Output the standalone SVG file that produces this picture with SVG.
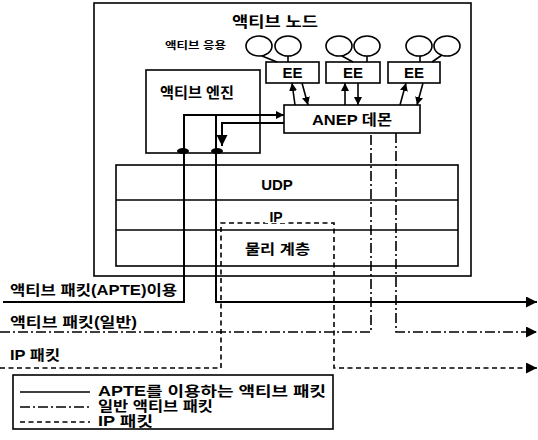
<svg xmlns="http://www.w3.org/2000/svg" width="538" height="440" viewBox="0 0 538 440">
<defs>
<style>
.box{fill:#fff;stroke:#000;stroke-width:1.6}
.ln{fill:none;stroke:#000;stroke-width:1.6}
.thk{fill:none;stroke:#000;stroke-width:2}
.dd{fill:none;stroke:#000;stroke-width:1.6;stroke-dasharray:10 3 2 3}
.ds{fill:none;stroke:#000;stroke-width:1.6;stroke-dasharray:5 3.5}
text{font-family:"Liberation Sans","Noto Sans CJK KR",sans-serif;font-weight:bold;fill:#000}
.t15{font-size:15px}
.t14{font-size:14px}
.t13{font-size:13px}
.t10{font-size:10px}
</style>
<marker id="ah" viewBox="0 0 10 10" refX="10" refY="5" markerWidth="8" markerHeight="8" markerUnits="userSpaceOnUse" orient="auto">
<path d="M0,0 L10,5 L0,10 z" fill="#000"/>
</marker>
<marker id="ahb" viewBox="0 0 10 10" refX="10" refY="5" markerWidth="11" markerHeight="11" markerUnits="userSpaceOnUse" orient="auto">
<path d="M0,0 L10,5 L0,10 z" fill="#000"/>
</marker>
</defs>
<rect width="538" height="440" fill="#fff"/>

<g id="active-node">
<rect x="94" y="3" width="377" height="273" class="box"/>
<text x="232" y="27" class="t15" textLength="86" lengthAdjust="spacingAndGlyphs">액티브 노드</text>
</g>

<g id="active-apps">
<text x="165" y="49" class="t10" textLength="61" lengthAdjust="spacingAndGlyphs">액티브 응용</text>
<ellipse cx="259" cy="46" rx="13" ry="10" class="ln"/>
<ellipse cx="288" cy="46" rx="13" ry="10" class="ln"/>
<ellipse cx="339" cy="46" rx="13" ry="10" class="ln"/>
<ellipse cx="367" cy="46" rx="13" ry="10" class="ln"/>
<ellipse cx="419" cy="46" rx="13" ry="10" class="ln"/>
<ellipse cx="447" cy="46" rx="13" ry="10" class="ln"/>
</g>

<g id="ee1">
<rect x="266" y="62" width="53" height="21" class="box"/>
<text x="292.5" y="78" text-anchor="middle" class="t15">EE</text>
</g>
<g id="ee2">
<rect x="326" y="62" width="54" height="21" class="box"/>
<text x="353" y="78" text-anchor="middle" class="t15">EE</text>
</g>
<g id="ee3">
<rect x="388" y="62" width="52" height="21" class="box"/>
<text x="414" y="78" text-anchor="middle" class="t15">EE</text>
</g>

<g id="active-engine">
<rect x="146" y="70" width="114" height="83" class="box"/>
<text x="160" y="98" class="t15" textLength="74" lengthAdjust="spacingAndGlyphs">액티브 엔진</text>
</g>

<g id="anep">
<rect x="284" y="105" width="136" height="28" class="box"/>
<text x="312" y="125" class="t15" textLength="80" lengthAdjust="spacingAndGlyphs">ANEP 데몬</text>
</g>

<g id="stack">
<rect x="116" y="165" width="342" height="101" class="box"/>
<line x1="116" y1="200" x2="458" y2="200" class="ln"/>
<line x1="116" y1="230" x2="458" y2="230" class="ln"/>
<text x="277" y="190" text-anchor="middle" class="t15">UDP</text>
<text x="245" y="254" class="t14" textLength="65" lengthAdjust="spacingAndGlyphs">물리 계층</text>
</g>

<g id="connectors">
<line x1="262" y1="56" x2="277" y2="62" class="ln"/>
<line x1="288" y1="56" x2="288" y2="62" class="ln"/>
<line x1="342" y1="56" x2="353" y2="62" class="ln"/>
<line x1="367" y1="56" x2="367" y2="62" class="ln"/>
<line x1="420" y1="56" x2="420" y2="62" class="ln"/>
<line x1="442" y1="55" x2="432" y2="62" class="ln"/>
<line x1="295" y1="105" x2="292" y2="83" class="ln" marker-end="url(#ah)"/>
<line x1="302" y1="83" x2="308" y2="105" class="ln" marker-end="url(#ah)"/>
<line x1="345" y1="105" x2="345" y2="83" class="ln" marker-end="url(#ah)"/>
<line x1="358" y1="83" x2="358" y2="105" class="ln" marker-end="url(#ah)"/>
<line x1="400" y1="105" x2="406" y2="83" class="ln" marker-end="url(#ah)"/>
<line x1="423" y1="83" x2="417" y2="105" class="ln" marker-end="url(#ah)"/>

<path d="M3,302 H184 V115 H284" class="thk" marker-end="url(#ah)"/>
<path d="M216,115 V302 H537" class="thk" marker-end="url(#ahb)"/>
<path d="M284,123 H222 V146" class="thk" marker-end="url(#ahb)"/>
<ellipse cx="183" cy="151" rx="6" ry="3" fill="#000"/>
<ellipse cx="217" cy="151" rx="6" ry="3" fill="#000"/>

<path d="M0,332 H371 V133" class="dd"/>
<path d="M396,133 V332 H537" class="dd" marker-end="url(#ahb)"/>

<path d="M0,368 H221 V223 H334 V368 H537" class="ds" marker-end="url(#ahb)"/>
<rect x="265" y="213" width="22" height="10" fill="#fff"/>
<text x="276" y="222" text-anchor="middle" class="t14">IP</text>
</g>

<g id="labels">
<text x="10" y="295" class="t14" textLength="167" lengthAdjust="spacingAndGlyphs">액티브 패킷(APTE)이용</text>
<text x="10" y="327" class="t14" textLength="127" lengthAdjust="spacingAndGlyphs">액티브 패킷(일반)</text>
<text x="10" y="360" class="t14" textLength="50" lengthAdjust="spacingAndGlyphs">IP 패킷</text>
</g>

<g id="legend">
<rect x="13" y="375" width="320" height="54" class="box"/>
<line x1="20" y1="392" x2="90" y2="392" class="ln"/>
<line x1="20" y1="407" x2="90" y2="407" class="dd"/>
<line x1="20" y1="422" x2="90" y2="422" class="ds"/>
<text x="98" y="396" class="t14" textLength="228" lengthAdjust="spacingAndGlyphs">APTE를 이용하는 액티브 패킷</text>
<text x="98" y="411" class="t14" textLength="115" lengthAdjust="spacingAndGlyphs">일반 액티브 패킷</text>
<text x="98" y="426" class="t14" textLength="55" lengthAdjust="spacingAndGlyphs">IP 패킷</text>
</g>
</svg>
